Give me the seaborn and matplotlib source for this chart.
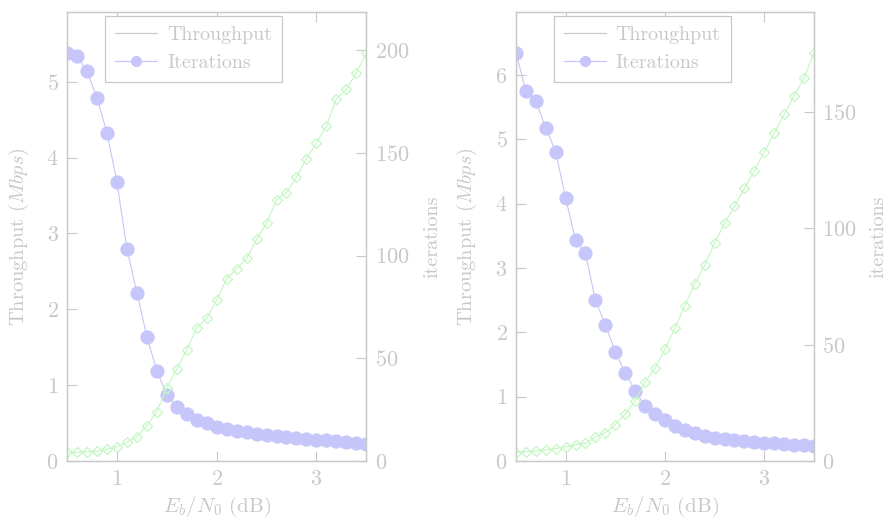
import matplotlib
matplotlib.use('Agg')
import matplotlib.pyplot as plt
import seaborn as sns
from matplotlib.lines import Line2D

# ---------------- data ----------------
ebn0 = [0.5, 0.6, 0.7, 0.8, 0.9, 1.0, 1.1, 1.2, 1.3, 1.4, 1.5,
        1.6, 1.7, 1.8, 1.9, 2.0, 2.1, 2.2, 2.3, 2.4, 2.5,
        2.6, 2.7, 2.8, 2.9, 3.0, 3.1, 3.2, 3.3, 3.4, 3.5]

throughput_a = [5.38, 5.34, 5.14, 4.79, 4.33, 3.68, 2.80, 2.22, 1.64, 1.19, 0.875,
                0.716, 0.62, 0.545, 0.497, 0.453, 0.426, 0.40, 0.378, 0.36, 0.343,
                0.33, 0.317, 0.303, 0.29, 0.281, 0.273, 0.26, 0.25, 0.241, 0.224]
iterations_a = [4.2, 4.2, 4.5, 4.7, 5.7, 6.9, 9.1, 11.8, 17.2, 24.0, 35.7,
                44.8, 54.0, 64.9, 69.4, 78.3, 88.7, 93.6, 98.6, 107.9, 115.7,
                127.2, 130.6, 138.2, 147.1, 154.9, 163.0, 176.5, 180.9, 189.0, 198.7]

throughput_b = [6.35, 5.75, 5.60, 5.18, 4.81, 4.09, 3.44, 3.23, 2.50, 2.12, 1.70,
                1.37, 1.09, 0.86, 0.738, 0.636, 0.549, 0.482, 0.43, 0.389, 0.358,
                0.337, 0.322, 0.306, 0.295, 0.285, 0.275, 0.264, 0.254, 0.244, 0.228]
iterations_b = [3.6, 4.0, 4.3, 4.7, 5.3, 6.1, 7.0, 7.6, 10.3, 12.2, 15.6,
                20.1, 25.9, 33.9, 39.8, 48.0, 57.0, 66.7, 76.1, 84.2, 93.6,
                102.1, 109.5, 117.2, 124.8, 132.8, 141.0, 149.0, 157.0, 164.5, 175.5]

x_ticks = [1, 2, 3]
left_ticks = [[0, 1, 2, 3, 4, 5], [0, 1, 2, 3, 4, 5, 6]]
right_ticks = [[0, 50, 100, 150, 200], [0, 50, 100, 150]]
left_lims = [5.92, 6.98]
right_lims = [218.6, 193.0]

legend_labels = ['Throughput', 'Iterations']
xlabel = r'$E_b/N_0$ (dB)'
ylabel_left = r'Throughput ($Mbps$)'
ylabel_right = 'iterations'

# ---------------- style ----------------
sns.set_style('ticks')
GRAY = '#c8c8c8'
BLUE = '#c6c6fa'
GREEN = '#c2f7c2'
plt.rcParams.update({
    'font.family': ['cmr10'],
    'mathtext.fontset': 'cm',
    'axes.formatter.use_mathtext': True,
    'axes.unicode_minus': False,
    'font.size': 14,
    'text.color': GRAY,
    'axes.labelcolor': GRAY,
    'xtick.color': GRAY,
    'ytick.color': GRAY,
    'axes.edgecolor': GRAY,
})

fig = plt.figure(figsize=(8.88, 5.19), dpi=100)
positions = [[0.0755, 0.1118, 0.337, 0.865], [0.581, 0.1118, 0.3356, 0.865]]
data = [(throughput_a, iterations_a), (throughput_b, iterations_b)]
left_label_x = [-0.12, -0.124]
right_label_x = [1.19, 1.185]

for i, pos in enumerate(positions):
    thr, its = data[i]
    ax = fig.add_axes(pos)
    ax2 = ax.twinx()
    sns.lineplot(x=ebn0, y=thr, ax=ax, color=BLUE, marker='o', markersize=9.5,
                 markeredgecolor=BLUE, markerfacecolor=BLUE, linewidth=0.8)
    sns.lineplot(x=ebn0, y=its, ax=ax2, color=GREEN, marker='D', markersize=5.2,
                 markeredgecolor=GREEN, markerfacecolor='none', markeredgewidth=0.9,
                 linewidth=0.8)
    ax.set_xlim(0.5, 3.5)
    ax.set_ylim(0, left_lims[i])
    ax2.set_ylim(0, right_lims[i])
    ax.set_xticks(x_ticks)
    ax.set_yticks(left_ticks[i])
    ax2.set_yticks(right_ticks[i])
    ax.tick_params(axis='x', direction='in', top=True, length=7.5, width=0.8, pad=6, labelsize=16)
    ax.tick_params(axis='y', direction='in', length=7.5, width=0.8, pad=6, labelsize=16)
    ax2.tick_params(axis='y', direction='in', length=7.5, width=0.8, pad=6, labelsize=16)
    for a in (ax, ax2):
        for s in a.spines.values():
            s.set_color(GRAY)
            s.set_linewidth(0.9)
    ax.set_xlabel(xlabel, fontsize=15)
    ax.set_ylabel(ylabel_left, fontsize=14.7)
    ax2.set_ylabel(ylabel_right, fontsize=14.5)
    ax.xaxis.set_label_coords(0.5, -0.076)
    ax.yaxis.set_label_coords(left_label_x[i], 0.5)
    ax2.yaxis.set_label_coords(right_label_x[i], 0.5)

    handles = [Line2D([], [], color=GRAY, linewidth=0.9),
               Line2D([], [], color=BLUE, linewidth=0.9, marker='o', markersize=7,
                      markeredgecolor=BLUE)]
    leg = ax2.legend(handles, legend_labels, loc='upper left',
                     bbox_to_anchor=(0.127, 0.991), borderaxespad=0,
                     fancybox=False, framealpha=1, edgecolor=GRAY,
                     handlelength=2.1, handletextpad=0.5, labelspacing=0.5,
                     borderpad=0.5, fontsize=14.4)
    leg.get_frame().set_linewidth(0.9)

fig.savefig('out.png', dpi=100)
